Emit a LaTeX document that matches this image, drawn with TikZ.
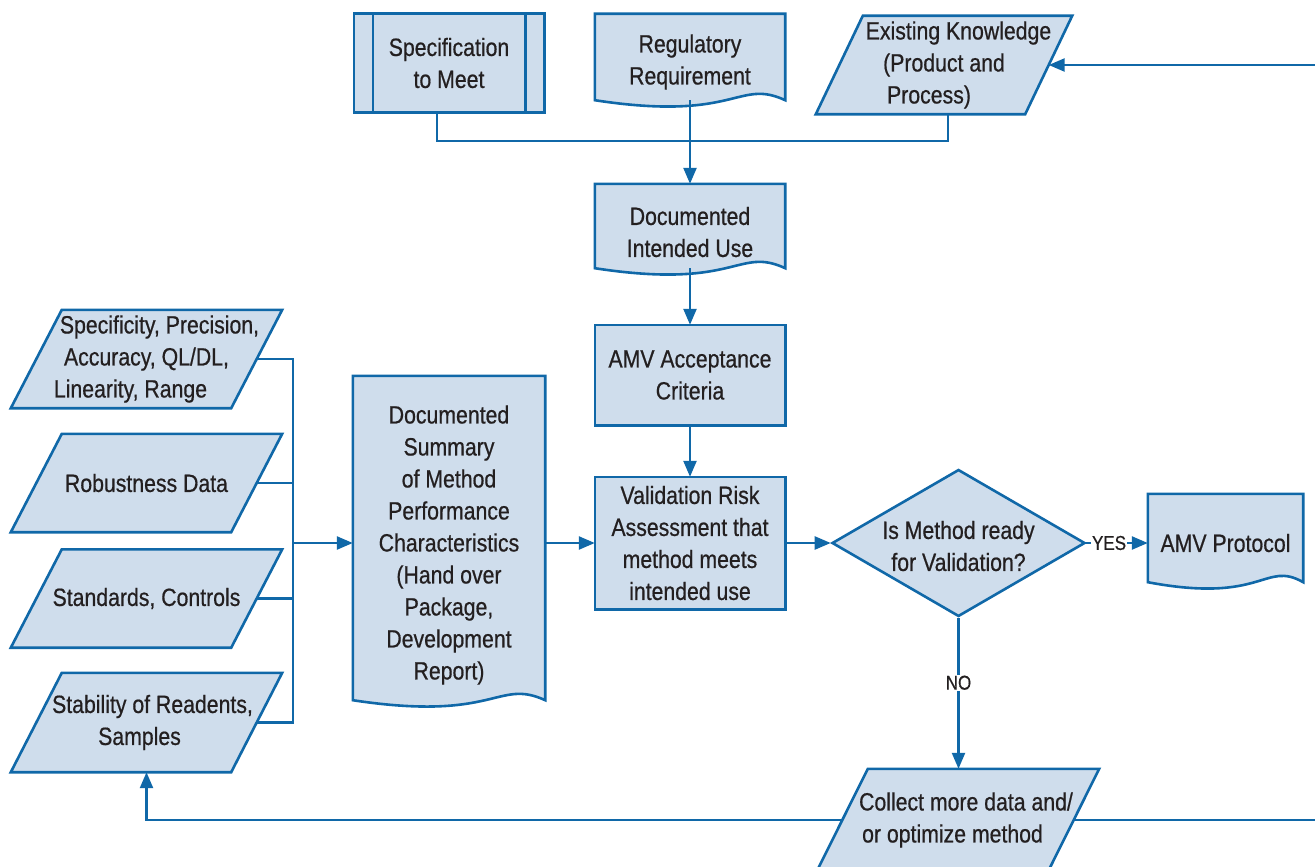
\documentclass[tikz,border=0pt]{standalone}
\usepackage{fontspec}
\setmainfont{Liberation Sans}[FakeStretch=0.85,FakeBold=0.6]
\usetikzlibrary{arrows.meta,shapes.geometric,backgrounds,calc}
\definecolor{fillblue}{RGB}{207,221,236}
\definecolor{lineblue}{RGB}{16,104,168}
\definecolor{txt}{RGB}{35,31,32}
\newcommand{\docshape}[1]{\path[outline] (#1.south west) .. controls ($(#1.south west)!0.75!(#1.south east)+(0,22)$) and ($(#1.south west)!0.75!(#1.south east)+(0,-22)$) .. (#1.south east) -- (#1.north east) -- (#1.north west) -- cycle;}
\newcommand{\parashape}[2]{\path[outline] ($(#1.north west)+(#2,0)$) -- ($(#1.north east)+(#2,0)$) -- ($(#1.south east)-(#2,0)$) -- ($(#1.south west)-(#2,0)$) -- cycle;}
\begin{document}
\begin{tikzpicture}[x=1pt,y=-1pt,
  box/.style={rectangle, inner sep=0pt, align=center, text=txt, font=\fontsize{25}{32}\selectfont},
  outline/.style={draw=lineblue, fill=fillblue, line width=2.6pt, line join=miter},
  conn/.style={draw=lineblue, line width=2.4pt},
  arr/.style={conn, -{Triangle[length=16pt,width=13pt]}},
  lbl/.style={fill=white, inner sep=1pt, text=txt, font=\fontsize{20}{24}\selectfont}
]
\useasboundingbox (0,0) rectangle (1315,867);
% nodes
\node[box, minimum width=190pt, minimum height=98pt] (spec) at (449,63) {Specification\\to Meet};
\node[box, minimum width=190pt, minimum height=86pt] (reg) at (690,57) {};
\node[box] (regt) at (690,62) {Regulatory\\Requirement};
\node[box, minimum width=209pt, minimum height=98pt] (ek) at (944,65) {Existing Knowledge\hspace*{-29pt}\\(Product and\hspace*{-3pt}\\\hspace*{-30pt}Process)};
\node[box, minimum width=190pt, minimum height=84pt] (diu) at (690,226) {};
\node[box] (diut) at (690,232) {Documented\\Intended Use};
\node[box, minimum width=190pt, minimum height=100pt] (amv) at (690,375) {AMV Acceptance\\Criteria};
\node[box, minimum width=190pt, minimum height=132pt] (vra) at (690,543) {Validation Risk\\Assessment that\\method meets\\intended use};
\node[diamond, draw=lineblue, fill=fillblue, line width=2.6pt, inner sep=0pt, minimum width=253pt, minimum height=147pt] (dia) at (958.5,543) {};
\node[box] (diat) at (958.5,546) {Is Method ready\\for Validation?};
\node[box, minimum width=155pt, minimum height=88pt] (prot) at (1225.5,538) {};
\node[box] (prott) at (1225.5,543) {AMV Protocol};
\node[box, minimum width=192pt, minimum height=324pt] (ds) at (449,538) {};
\node[box] (dst) at (449,545) {Documented\\Summary\\of Method\\Performance\\Characteristics\\(Hand over\\Package,\\Development\\Report)};
\node[box, minimum width=220pt, minimum height=98pt] (p1) at (146.5,359) {Specificity, Precision,\hspace*{-26pt}\\Accuracy, QL/DL,\\\hspace*{-32pt}Linearity, Range};
\node[box, minimum width=220pt, minimum height=98pt] (p2) at (146.5,483) {Robustness Data};
\node[box, minimum width=220pt, minimum height=98pt] (p3) at (146.5,598.5) {Standards, Controls};
\node[box, minimum width=220pt, minimum height=99pt] (p4) at (146.5,722.5) {Stability of Readents,\hspace*{-12pt}\\\hspace*{-14pt}Samples};
\node[box, minimum width=231pt, minimum height=102pt] (coll) at (958,820) {Collect more data and/\hspace*{-16pt}\\\hspace*{-11pt}or optimize method};
\coordinate (j) at (690,141);
\coordinate (bus) at (293,543);
\coordinate (edgeT) at (1315,65);
\coordinate (edgeB) at (1315,820);
% shapes
\begin{scope}[on background layer]
  \path[outline] (spec.north west) rectangle (spec.south east);
  \draw[draw=lineblue, line width=2.6pt] ($(spec.north west)+(19,0)$) -- ($(spec.south west)+(19,0)$);
  \draw[draw=lineblue, line width=2.6pt] ($(spec.north east)-(19,0)$) -- ($(spec.south east)-(19,0)$);
  \docshape{reg}
  \parashape{ek}{23.5}
  \docshape{diu}
  \path[outline] (amv.north west) rectangle (amv.south east);
  \path[outline] (vra.north west) rectangle (vra.south east);
  \docshape{prot}
  \docshape{ds}
  \parashape{p1}{25.5}
  \parashape{p2}{25.5}
  \parashape{p3}{25.5}
  \parashape{p4}{25.5}
  \parashape{coll}{25.5}
\end{scope}
% connectors
\draw[conn] ([xshift=-12pt]spec.south) |- (j) -| ([xshift=4pt]ek.south);
\draw[arr] (reg.south) -- (diu.north);
\draw[arr] (edgeT) -- (ek.east);
\draw[arr] (diu.south) -- (amv.north);
\draw[arr] (amv.south) -- (vra.north);
\draw[conn] (p1.east) -| (bus);
\draw[conn] (p2.east) -| (bus);
\draw[conn] (p3.east) -| (bus);
\draw[conn] (p4.east) -| (bus);
\draw[arr] (bus) -- (bus -| ds.west);
\draw[arr] (ds.east |- vra.west) -- (vra.west);
\draw[arr] (vra.east) -- (dia.west);
\draw[arr] (dia.east) -- node[lbl, pos=0.37] (yes) {YES} (dia.east -| prot.west);
\draw[arr] (dia.south) -- node[lbl, pos=0.43] (no) {NO} (dia.south |- coll.north);
\draw[arr] (coll.west) -| (p4.south);
\draw[conn] (coll.east) -- (edgeB);
\end{tikzpicture}
\end{document}
